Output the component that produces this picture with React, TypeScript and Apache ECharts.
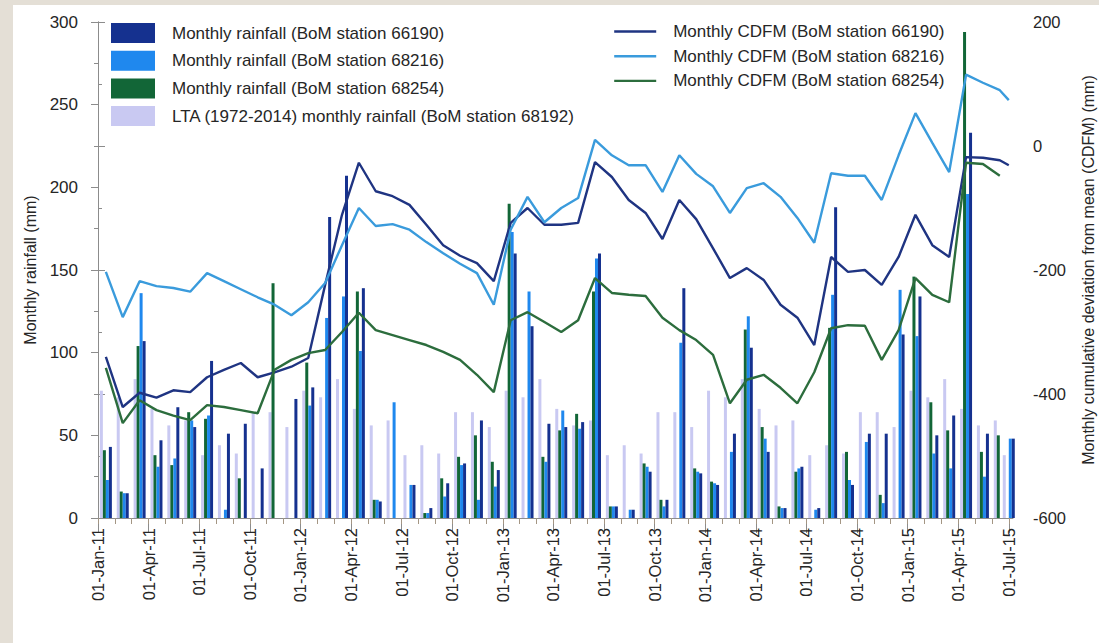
import React, { useEffect, useRef } from "react";
import * as echarts from "echarts";

// Data dates (mid-month observations, last one on 1 July 2015)
const DATES = [
  "2011-01-15", "2011-02-15", "2011-03-15", "2011-04-15", "2011-05-15", "2011-06-15",
  "2011-07-15", "2011-08-15", "2011-09-15", "2011-10-15", "2011-11-15", "2011-12-15",
  "2012-01-15", "2012-02-15", "2012-03-15", "2012-04-15", "2012-05-15", "2012-06-15",
  "2012-07-15", "2012-08-15", "2012-09-15", "2012-10-15", "2012-11-15", "2012-12-15",
  "2013-01-15", "2013-02-15", "2013-03-15", "2013-04-15", "2013-05-15", "2013-06-15",
  "2013-07-15", "2013-08-15", "2013-09-15", "2013-10-15", "2013-11-15", "2013-12-15",
  "2014-01-15", "2014-02-15", "2014-03-15", "2014-04-15", "2014-05-15", "2014-06-15",
  "2014-07-15", "2014-08-15", "2014-09-15", "2014-10-15", "2014-11-15", "2014-12-15",
  "2015-01-15", "2015-02-15", "2015-03-15", "2015-04-15", "2015-05-15", "2015-06-15",
  "2015-07-01",
];

const TICK_LABELS = [
  "01-Jan-11", "01-Apr-11", "01-Jul-11", "01-Oct-11",
  "01-Jan-12", "01-Apr-12", "01-Jul-12", "01-Oct-12",
  "01-Jan-13", "01-Apr-13", "01-Jul-13", "01-Oct-13",
  "01-Jan-14", "01-Apr-14", "01-Jul-14", "01-Oct-14",
  "01-Jan-15", "01-Apr-15", "01-Jul-15",
];

// Long-term average monthly rainfall, Jan..Dec (BoM 68192)
const LTA_MONTHLY = [77, 73, 84, 66, 56, 59, 38, 44, 39, 64, 64, 55];

const RAIN_66190 = [
  43, 15, 107, 47, 67, 55, 95, 51, 57, 30, null, 72,
  79, 182, 207, 139, 10, null, 20, 6, 21, 33, 59, 29,
  160, 116, 57, 55, 58, 160, 7, 5, 28, 11, 139, 27,
  20, 51, 103, 40, 6, 31, 6, 188, 20, 51, 51, 111,
  134, 50, 62, 233, 51, null, 48,
];
const RAIN_68216 = [
  23, 15, 136, 31, 36, 59, 62, 5, null, null, null, null,
  68, 121, 134, 101, 11, 70, 20, 3, 13, 32, 11, 19,
  173, 137, 34, 65, 54, 157, 7, 5, 31, 7, 106, 28,
  21, 40, 122, 48, 6, 30, 5, 135, 23, 46, 9, 138,
  110, 39, 30, 196, 25, null, 48,
];
const RAIN_68254 = [
  41, 16, 104, 38, 32, 64, 60, null, 24, null, 142, null,
  94, null, null, 137, 11, null, null, 3, 24, 37, 50, 34,
  190, null, 37, 53, 63, 137, 7, null, 33, 11, null, 30,
  22, null, 114, 55, 7, 28, null, 115, 40, null, 14, null,
  146, 70, 53, 294, 40, 50, null,
];

const CDFM_66190 = [
  -340, -421, -398, -406, -394, -397, -373, -361, -350, -373, -365, -356,
  -342, -224, -111, -27, -73, -81, -95, -127, -160, -177, -189, -218,
  -124, -100, -127, -127, -124, -26, -50, -87, -108, -150, -87, -118,
  -165, -213, -197, -216, -256, -277, -321, -179, -203, -200, -224, -179,
  -111, -160, -179, -18, -19, -23, -31,
];
const CDFM_68216 = [
  -203, -276, -218, -226, -229, -235, -205, -218, -231, -244, -256, -273,
  -252, -221, -160, -100, -129, -126, -135, -155, -173, -190, -205, -256,
  -135, -82, -123, -100, -84, 10, -15, -31, -31, -74, -15, -45,
  -65, -108, -68, -60, -82, -116, -156, -44, -48, -48, -87, -15,
  53, 5, -42, 115, 102, 90, 74,
];
const CDFM_68254 = [
  -358, -447, -410, -426, -435, -442, -418, -421, -426, -431, -361, -345,
  -334, -329, -300, -269, -297, -305, -313, -321, -332, -345, -369, -397,
  -281, -268, -284, -300, -281, -213, -237, -240, -242, -277, -297, -313,
  -337, -415, -377, -369, -390, -415, -365, -294, -289, -290, -345, -297,
  -213, -240, -252, -27, -29, -48, null,
];

const FONT = "'Liberation Sans', Arial, Helvetica, sans-serif";
const TEXT = "#262626";
const AXIS = "#8c8c8c";

const C_BAR_66190 = "#15318f";
const C_BAR_68216 = "#1f88ee";
const C_BAR_68254 = "#126637";
const C_BAR_LTA = "#c9c9f2";
const C_LINE_66190 = "#1f3482";
const C_LINE_68216 = "#3a9bdc";
const C_LINE_68254 = "#2c6d3d";

function monthPos(d: string): number {
  const [y, m, day] = d.split("-").map(Number);
  return (y - 2011) * 12 + (m - 1) + (day - 1) / 30;
}

export default function App() {
  const ref = useRef<HTMLDivElement>(null);

  useEffect(() => {
    if (!ref.current) return;
    const chart = echarts.init(ref.current, undefined, { renderer: "svg" });
    const xs = DATES.map(monthPos);
    const pair = (arr: (number | null)[]) => xs.map((x, i) => [x, arr[i]]);
    const lta = DATES.map((d) => LTA_MONTHLY[Number(d.split("-")[1]) - 1]);
    const majorTicks = TICK_LABELS.map((_, i) => i * 3);
    const monthTicks = DATES.map((_, i) => i);

    const barBase = { type: "bar", barWidth: 3, barGap: "0%", xAxisIndex: 0, yAxisIndex: 0, z: 2 };
    const lineBase = {
      type: "line", xAxisIndex: 0, yAxisIndex: 1, symbol: "none", showSymbol: false,
      connectNulls: false, z: 4,
    };

    const option: any = {
      animation: false,
      backgroundColor: "#e4dfd6",
      graphic: [
        {
          type: "rect", z: -10, silent: true,
          shape: { x: 13, y: 5, width: 1086, height: 638 },
          style: { fill: "#ffffff" },
        },
      ],
      textStyle: { fontFamily: FONT },
      legend: [
        {
          orient: "vertical", left: 106, top: 18, itemWidth: 44, itemHeight: 20, itemGap: 7.7,
          icon: "rect",
          textStyle: { fontSize: 17, color: TEXT, fontFamily: FONT, padding: [0, 0, 0, 12] },
          data: [
            "Monthly rainfall (BoM station 66190)",
            "Monthly rainfall (BoM station 68216)",
            "Monthly rainfall (BoM station 68254)",
            "LTA (1972-2014) monthly rainfall (BoM station 68192)",
          ],
        },
        {
          orient: "vertical", left: 608, top: 18, itemWidth: 42, itemHeight: 20, itemGap: 7.7,
          itemStyle: { opacity: 0, borderWidth: 0 },
          lineStyle: { width: 2.4 },
          textStyle: { fontSize: 17, color: TEXT, fontFamily: FONT, padding: [0, 0, 0, 12] },
          data: [
            "Monthly CDFM (BoM station 66190)",
            "Monthly CDFM (BoM station 68216)",
            "Monthly CDFM (BoM station 68254)",
          ],
        },
      ],
      grid: {
        left: 98, right: 86, top: 22, bottom: 125,
        containLabel: false, outerBoundsMode: "none",
      },
      xAxis: [
        {
          type: "value", min: 0, max: 54.25, interval: 3,
          axisLine: { show: true, onZero: false, lineStyle: { color: AXIS, width: 1 } },
          axisTick: { show: true, length: 15, customValues: majorTicks, lineStyle: { color: AXIS } },
          splitLine: { show: false },
          axisLabel: {
            rotate: 90, margin: 10, fontSize: 16.5, color: TEXT, fontFamily: FONT,
            customValues: majorTicks,
            formatter: (v: number) => {
              const k = Math.round(v / 3);
              return Math.abs(v - k * 3) < 1e-6 ? TICK_LABELS[k] ?? "" : "";
            },
          },
        },
        {
          type: "value", min: 0, max: 54.25, position: "bottom",
          axisLine: { show: false },
          axisTick: { show: true, length: 6, customValues: monthTicks, lineStyle: { color: "#a49684" } },
          axisLabel: { show: false },
          splitLine: { show: false },
        },
      ],
      yAxis: [
        {
          type: "value", min: 0, max: 300, interval: 50, position: "left",
          name: "Monthly rainfall (mm)", nameLocation: "middle", nameGap: 58, nameRotate: 90,
          nameTextStyle: { fontSize: 16, color: TEXT, fontFamily: FONT },
          axisLine: { show: true, lineStyle: { color: AXIS } },
          axisTick: { show: true, length: 7, lineStyle: { color: AXIS } },
          minorTick: { show: true, splitNumber: 2, length: 4, lineStyle: { color: AXIS } },
          splitLine: { show: false },
          axisLabel: { margin: 20, fontSize: 17, color: TEXT, fontFamily: FONT },
        },
        {
          type: "value", min: -600, max: 200, interval: 200, position: "right",
          name: "Monthly cumulative deviation from mean (CDFM) (mm)",
          nameLocation: "middle", nameGap: 67, nameRotate: 90,
          nameTextStyle: { fontSize: 16, color: TEXT, fontFamily: FONT },
          axisLine: { show: true, lineStyle: { color: AXIS } },
          axisTick: { show: true, length: 7, lineStyle: { color: AXIS } },
          minorTick: { show: true, splitNumber: 2, length: 4, lineStyle: { color: AXIS } },
          splitLine: { show: false },
          axisLabel: { margin: 20, fontSize: 16.5, color: TEXT, fontFamily: FONT },
        },
      ],
      series: [
        {
          ...barBase, name: "LTA (1972-2014) monthly rainfall (BoM station 68192)",
          color: C_BAR_LTA, itemStyle: { color: C_BAR_LTA }, data: pair(lta),
        },
        {
          ...barBase, name: "Monthly rainfall (BoM station 68254)",
          color: C_BAR_68254, itemStyle: { color: C_BAR_68254 }, data: pair(RAIN_68254),
        },
        {
          ...barBase, name: "Monthly rainfall (BoM station 68216)",
          color: C_BAR_68216, itemStyle: { color: C_BAR_68216 }, data: pair(RAIN_68216),
        },
        {
          ...barBase, name: "Monthly rainfall (BoM station 66190)",
          color: C_BAR_66190, itemStyle: { color: C_BAR_66190 }, data: pair(RAIN_66190),
        },
        {
          ...lineBase, name: "Monthly CDFM (BoM station 66190)",
          color: C_LINE_66190, lineStyle: { color: C_LINE_66190, width: 2.4 }, data: pair(CDFM_66190),
        },
        {
          ...lineBase, name: "Monthly CDFM (BoM station 68216)",
          color: C_LINE_68216, lineStyle: { color: C_LINE_68216, width: 2.4 }, data: pair(CDFM_68216),
        },
        {
          ...lineBase, name: "Monthly CDFM (BoM station 68254)",
          color: C_LINE_68254, lineStyle: { color: C_LINE_68254, width: 2.4 }, data: pair(CDFM_68254),
        },
      ],
    };

    chart.setOption(option);
    return () => chart.dispose();
  }, []);

  return (
    <div
      ref={ref}
      style={{ position: "fixed", left: 0, top: 0, width: 1099, height: 643 }}
    />
  );
}
